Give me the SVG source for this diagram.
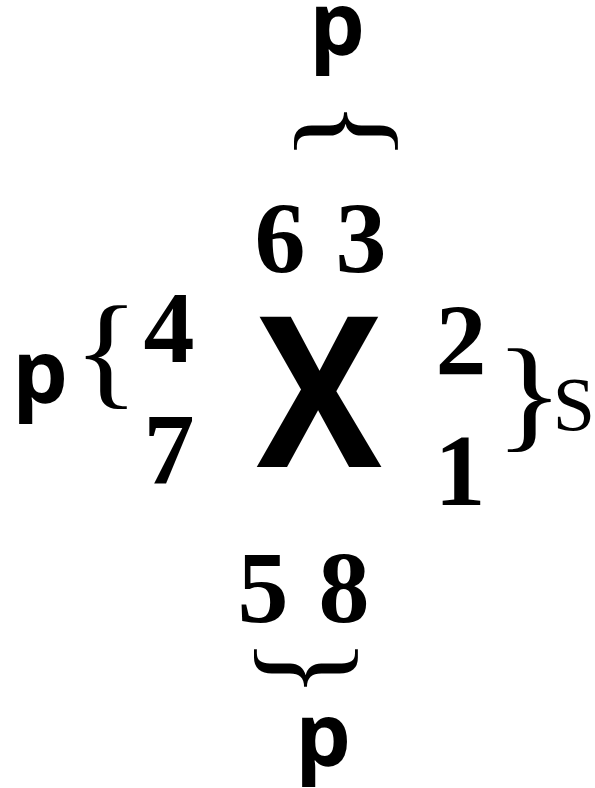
<svg xmlns="http://www.w3.org/2000/svg" width="595" height="788" viewBox="0 0 595 788">
<style>
.sans{font-family:"Open Sans","Liberation Sans",sans-serif;font-weight:bold;fill:#000}
.num{font-family:"Liberation Serif","Times New Roman",serif;font-weight:bold;font-size:102px;fill:#000}
.br{font-family:"Liberation Serif","Times New Roman",serif;font-size:125px;fill:#000}
.ser{font-family:"Liberation Serif","Times New Roman",serif;font-size:76px;fill:#000}
</style>
<rect width="595" height="788" fill="#fff"/>
<g id="center"><text class="sans" transform="translate(319,0) scale(0.89,1)" x="0" y="467" font-size="210" text-anchor="middle">X</text></g>
<g id="top">
<text class="sans" x="337" y="55" font-size="88" text-anchor="middle">p</text>
<text class="br" transform="translate(346,130) rotate(90)" x="1" y="35.5" text-anchor="middle">{</text>
<text class="num" x="280" y="273" text-anchor="middle">6</text>
<text class="num" x="361" y="273" text-anchor="middle">3</text>
</g>
<g id="left">
<text class="sans" x="40" y="403" font-size="88" text-anchor="middle">p</text>
<text class="br" transform="translate(108.5,356) scale(1.1,1)" x="-2" y="35.5" text-anchor="middle">{</text>
<text class="num" x="169" y="362" text-anchor="middle">4</text>
<text class="num" x="169" y="484" text-anchor="middle">7</text>
</g>
<g id="right">
<text class="num" x="461" y="375" text-anchor="middle">2</text>
<text class="num" x="460" y="505" font-size="110" text-anchor="middle">1</text>
<text class="br" transform="translate(527,399) scale(1.15,1)" x="2" y="35.5" text-anchor="middle">}</text>
<text class="ser" x="574" y="430" text-anchor="middle">S</text>
</g>
<g id="bottom">
<text class="num" x="263" y="622" text-anchor="middle">5</text>
<text class="num" x="344" y="622" text-anchor="middle">8</text>
<text class="br" transform="translate(306,668) rotate(90)" x="0" y="35.5" text-anchor="middle">}</text>
<text class="sans" x="323" y="766" font-size="88" text-anchor="middle">p</text>
</g>
<g id="connectors"></g>
</svg>
